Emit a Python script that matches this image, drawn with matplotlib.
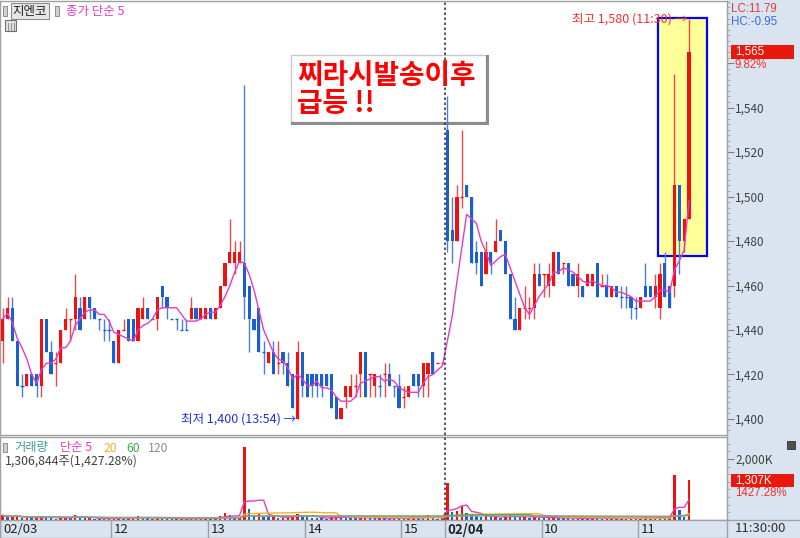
import matplotlib
matplotlib.use("Agg")
import matplotlib.pyplot as plt
import matplotlib.transforms as mtrans
from matplotlib.patches import Rectangle
from matplotlib.ticker import MultipleLocator, FixedLocator, FuncFormatter
import numpy as np
import pandas as pd

plt.rcParams['font.family'] = ['Noto Sans CJK KR', 'DejaVu Sans']

# ---------------- data (3-minute candles, 02/03 10:51 -> 02/04 11:30) ----------------
opens = [1435, 1445, 1450, 1435, 1415, 1415, 1420, 1420, 1415, 1445,
         1430, 1425, 1425, 1440, 1445, 1445, 1450, 1445, 1455, 1450,
         1445, 1440, 1440, 1435, 1425, 1440, 1445, 1445, 1435, 1445,
         1450, 1445, 1445, 1460, 1455, 1445, 1445, 1440, 1440, 1445,
         1450, 1445, 1445, 1450, 1445, 1450, 1460, 1470, 1470, 1470,
         1470, 1460, 1445, 1450, 1430, 1425, 1430, 1425, 1430, 1425,
         1420, 1400, 1430, 1420, 1420, 1420, 1420, 1420, 1420, 1410,
         1400, 1410, 1410, 1415, 1420, 1430, 1420, 1415, 1415, 1420,
         1420, 1415, 1415, 1410, 1410, 1420, 1420, 1415, 1420, 1430,
         1425, 1425,
         1530, 1485, 1480, 1500, 1505, 1500, 1475, 1475, 1465, 1475,
         1475, 1485, 1480, 1465, 1445, 1440, 1450, 1450, 1450, 1465,
         1465, 1460, 1460, 1475, 1470, 1470, 1465, 1460, 1460, 1460,
         1460, 1470, 1460, 1460, 1455, 1460, 1455, 1455, 1455, 1450,
         1450, 1460, 1460, 1455, 1450, 1470, 1460, 1460, 1505, 1480, 1490]
highs = [1450, 1455, 1455, 1435, 1420, 1420, 1420, 1420, 1445, 1445,
         1435, 1430, 1440, 1450, 1445, 1465, 1455, 1455, 1455, 1450,
         1445, 1445, 1445, 1435, 1440, 1445, 1445, 1445, 1450, 1455,
         1450, 1445, 1455, 1460, 1455, 1445, 1445, 1445, 1445, 1455,
         1450, 1450, 1450, 1450, 1450, 1460, 1470, 1490, 1480, 1480,
         1550, 1460, 1445, 1450, 1435, 1430, 1435, 1435, 1430, 1430,
         1420, 1435, 1430, 1420, 1420, 1420, 1420, 1420, 1420, 1410,
         1405, 1415, 1420, 1420, 1430, 1430, 1420, 1420, 1420, 1425,
         1425, 1415, 1420, 1415, 1415, 1420, 1420, 1425, 1425, 1430,
         1425, 1425,
         1545, 1500, 1505, 1530, 1505, 1500, 1480, 1475, 1480, 1475,
         1490, 1485, 1480, 1465, 1455, 1450, 1460, 1455, 1470, 1470,
         1465, 1470, 1475, 1475, 1470, 1470, 1465, 1470, 1460, 1465,
         1465, 1470, 1465, 1465, 1460, 1460, 1460, 1460, 1455, 1455,
         1455, 1470, 1460, 1465, 1470, 1475, 1460, 1555, 1505, 1490, 1580]
lows = [1425, 1445, 1435, 1415, 1410, 1415, 1415, 1410, 1410, 1430,
        1420, 1415, 1425, 1440, 1435, 1440, 1440, 1445, 1445, 1445,
        1440, 1435, 1435, 1425, 1425, 1440, 1435, 1435, 1435, 1445,
        1445, 1445, 1440, 1450, 1445, 1445, 1440, 1440, 1440, 1445,
        1445, 1445, 1445, 1445, 1445, 1450, 1460, 1470, 1465, 1470,
        1445, 1430, 1440, 1430, 1420, 1425, 1420, 1420, 1420, 1415,
        1405, 1400, 1410, 1410, 1410, 1410, 1410, 1415, 1405, 1400,
        1400, 1405, 1410, 1410, 1410, 1410, 1410, 1410, 1410, 1410,
        1415, 1410, 1405, 1405, 1410, 1415, 1410, 1410, 1410, 1420,
        1425, 1425,
        1475, 1470, 1480, 1495, 1500, 1470, 1465, 1460, 1465, 1465,
        1475, 1480, 1465, 1445, 1440, 1440, 1445, 1445, 1445, 1460,
        1455, 1455, 1460, 1465, 1465, 1460, 1460, 1455, 1455, 1460,
        1460, 1455, 1460, 1455, 1455, 1455, 1450, 1450, 1445, 1445,
        1450, 1455, 1455, 1450, 1445, 1455, 1450, 1455, 1465, 1475, 1490]
closes = [1445, 1450, 1435, 1415, 1415, 1420, 1415, 1415, 1445, 1430,
          1420, 1425, 1440, 1445, 1445, 1455, 1440, 1455, 1450, 1445,
          1445, 1440, 1440, 1425, 1440, 1440, 1435, 1435, 1450, 1450,
          1445, 1445, 1455, 1455, 1450, 1445, 1445, 1440, 1440, 1450,
          1445, 1450, 1450, 1445, 1450, 1460, 1470, 1475, 1475, 1475,
          1455, 1445, 1440, 1430, 1430, 1430, 1420, 1425, 1425, 1415,
          1405, 1430, 1415, 1410, 1415, 1415, 1415, 1415, 1405, 1400,
          1405, 1415, 1415, 1415, 1430, 1410, 1420, 1420, 1415, 1420,
          1415, 1415, 1405, 1410, 1415, 1415, 1415, 1425, 1425, 1420,
          1425, 1425,
          1480, 1480, 1500, 1500, 1500, 1470, 1470, 1460, 1475, 1470,
          1480, 1480, 1465, 1445, 1440, 1450, 1450, 1450, 1465, 1460,
          1465, 1465, 1475, 1465, 1470, 1460, 1460, 1465, 1455, 1465,
          1465, 1455, 1460, 1455, 1460, 1455, 1455, 1455, 1450, 1450,
          1455, 1455, 1455, 1460, 1465, 1455, 1450, 1505, 1480, 1490, 1565]
volumes_k = [150, 90, 120, 140, 60, 80, 50, 70, 130, 90,
             60, 40, 80, 110, 50, 150, 90, 60, 70, 40,
             30, 40, 50, 90, 110, 40, 60, 70, 120, 90,
             60, 30, 100, 70, 60, 30, 40, 30, 30, 60,
             40, 70, 80, 50, 60, 120, 230, 160, 90, 110,
             2400, 360, 150, 230, 100, 90, 120, 70, 80, 100,
             140, 190, 160, 90, 80, 60, 50, 40, 110, 120,
             90, 80, 70, 50, 90, 100, 60, 50, 70, 60,
             40, 80, 70, 50, 60, 90, 80, 70, 160, 60, 40, 90,
             1200, 260, 300, 460, 230, 160, 120, 100, 130, 90,
             110, 80, 120, 150, 100, 90, 110, 80, 130, 70,
             60, 80, 90, 70, 50, 60, 40, 70, 50, 60,
             80, 70, 40, 50, 60, 40, 50, 60, 70, 40,
             60, 90, 50, 80, 110, 70, 90, 1475, 330, 100, 1306.844]
tick_pos = [-0.5, 22.5, 42.5, 62.5, 82.5, 91.5, 111.5, 131.5]
tick_labels = ['02/03', '12', '13', '14', '15', '02/04', '10', '11']
day_break = 91.5

# ---------------- figure ----------------
W, H = 800, 538
fig = plt.figure(figsize=(8, 5.38), dpi=100)
fig.patch.set_facecolor('white')

def fx(px):
    return px / W

def fy(py):
    return 1 - py / H

BG = '#dae4f0'
RED = '#f01010'
BLUE = '#1a5fd0'
RED_W = '#f04848'
BLUE_W = '#4a7fe0'
PINK = '#e23cc8'
GRID = '#a0a0a0'
LAT = ['Liberation Sans', 'DejaVu Sans']

fig.add_artist(Rectangle((fx(727), 0), 1 - fx(727), 1, transform=fig.transFigure,
                         facecolor=BG, edgecolor='none', zorder=-10))

ax = fig.add_axes([0, fy(435), fx(727), (435 - 1) / H])
ax_v = fig.add_axes([0, fy(520), fx(727), (520 - 437) / H])
ax_s = fig.add_axes([0, 0, fx(727), 18 / H])

o = np.array(opens, float)
h = np.array(highs, float)
l = np.array(lows, float)
c = np.array(closes, float)
v = np.array(volumes_k, float)
n = len(c)
x = np.arange(n)

# candle colors (doji: compare with previous close, tie -> previous color)
ups = []
for i in range(n):
    if c[i] > o[i]:
        up = True
    elif c[i] < o[i]:
        up = False
    else:
        if i == 0:
            up = True
        elif c[i] > c[i - 1]:
            up = True
        elif c[i] < c[i - 1]:
            up = False
        else:
            up = ups[-1]
    ups.append(up)
ups = np.array(ups)
cols = np.where(ups, RED, BLUE)
wcols = np.where(ups, RED_W, BLUE_W)

xmin, xmax = -2.7 / 4.833, (727 - 2.7) / 4.833
for a in (ax, ax_v, ax_s):
    a.set_xlim(xmin, xmax)
    a.set_facecolor('white')
    for s in a.spines.values():
        s.set_color(GRID)
        s.set_linewidth(1)

ax.set_ylim(1392.8, 1587.9)

# yellow highlight box
ax.add_patch(Rectangle((135.6, 1473.3), 10.1, 106.9, facecolor='#ffff99',
                       edgecolor='#0000ff', linewidth=1.6, zorder=1))

# text box with shadow
ax.add_patch(Rectangle((59.65, 1533.5), 40.35, 30.1, facecolor='white',
                       edgecolor='#c8c8c8', linewidth=1, zorder=2))
ax.plot([59.9, 100.2, 100.2], [1533.2, 1533.2, 1563.2], color='#8c8c8c', lw=2.2,
        zorder=2, solid_joinstyle='miter')

# candles
ax.vlines(x, l, h, colors=wcols, linewidth=1, zorder=3)
body_b = np.minimum(o, c)
body_h = np.abs(c - o)
ax.bar(x, body_h, bottom=body_b, width=0.64, color=cols, linewidth=0, zorder=4)
doji = body_h == 0
ax.hlines(c[doji], x[doji] - 0.32, x[doji] + 0.32, colors=cols[doji], linewidth=1, zorder=4)

ma5 = pd.Series(c).rolling(5, min_periods=1).mean()
ax.plot(x, ma5, color=PINK, lw=1, zorder=5)

ax.axvline(day_break, color='#404040', lw=1.2, ls=(0, (1.5, 1.5)), zorder=6)

ax.text(60.9, 1554.4, '찌라시발송이후', color='#ff0000', fontsize=20, fontweight='bold',
        fontstyle='italic', ha='left', va='center', zorder=8)
ax.text(60.9, 1541.6, '급등 !!', color='#ff0000', fontsize=20, fontweight='bold',
        fontstyle='italic', ha='left', va='center', zorder=8)

i_lo = int(np.argmin(l))
i_hi = int(np.argmax(h))
ax.text(i_lo - 0.3, l[i_lo], f'최저 {int(l[i_lo]):,} (13:54) →', color='#2030e0',
        fontsize=9, ha='right', va='center', zorder=8)
ax.text(i_hi - 0.3, h[i_hi], f'최고 {int(h[i_hi]):,} (11:30) →', color='#f03030',
        fontsize=9, ha='right', va='center', zorder=8)

# price axis on right
ax.yaxis.tick_right()
ax.yaxis.set_major_locator(FixedLocator(np.arange(1400, 1561, 20)))
ax.yaxis.set_minor_locator(MultipleLocator(2.5))
ax.yaxis.set_major_formatter(FuncFormatter(lambda val, p: f'{int(round(val)):,}' if val <= 1540 else ''))
ax.tick_params(axis='y', which='major', direction='out', length=5, color='#808080',
               labelsize=8.5, labelcolor='#404040', pad=1)
ax.tick_params(axis='y', which='minor', direction='out', length=2, color='#a0a0a0')
ax.set_xticks([])

bt = mtrans.blended_transform_factory(ax.transAxes, ax.transData)
last = c[-1]
ax.add_patch(Rectangle((1.005, last - 3.2), 0.087, 6.4, transform=bt, facecolor='#e8180c',
                       edgecolor='none', clip_on=False, zorder=9))
ax.text(1.011, last, f'{int(last):,}', transform=bt, color='white', fontsize=8.3,
        family=LAT, va='center', ha='left', zorder=10, clip_on=False)
ax.text(1.011, last - 5.8, '9.82%', transform=bt, color='#f03030', fontsize=8.3,
        family=LAT, va='center', ha='left', zorder=10, clip_on=False)

fig.text(fx(731), fy(9), 'LC:11.79', color='#e03a3a', fontsize=8.3, family=LAT, va='center')
fig.text(fx(731), fy(22), 'HC:-0.95', color='#3a6ad8', fontsize=8.3, family=LAT, va='center')

# header
fig.text(fx(30), fy(11), '지엔코', fontsize=9, color='#202020', ha='center', va='center',
         bbox=dict(boxstyle='square,pad=0.15', fc='#e6e6e6', ec='#909090', lw=0.8))
fig.text(fx(66), fy(11), '종가 단순 5', fontsize=9, color=PINK, ha='left', va='center')
for px0 in (3, 55):
    fig.add_artist(Rectangle((fx(px0), fy(16)), fx(4), 10 / H, transform=fig.transFigure,
                             facecolor='#d0d0d0', edgecolor='#808080', lw=0.6))
fig.add_artist(Rectangle((fx(5), fy(31)), fx(11), 11 / H, transform=fig.transFigure,
                         facecolor='#e0e0e0', edgecolor='#707070', lw=0.8))
for gx in (8, 11, 14):
    fig.add_artist(plt.Line2D([fx(gx), fx(gx)], [fy(30), fy(23)], transform=fig.transFigure,
                              color='#808080', lw=0.6))

# ---------------- volume panel ----------------
vcols = [RED] + [RED if v[i] >= v[i - 1] else BLUE for i in range(1, n)]
ax_v.bar(x, v, width=0.5, color=vcols, linewidth=0, zorder=3)
for win, colr in ((5, PINK), (20, '#f2b028'), (60, '#3cac50'), (120, '#9a9a9a')):
    ax_v.plot(x, pd.Series(v).rolling(win, min_periods=1).mean(), color=colr, lw=1, zorder=4)
ax_v.axvline(day_break, color='#404040', lw=1.2, ls=(0, (1.5, 1.5)), zorder=6)
ax_v.set_ylim(0, 2721)
ax_v.yaxis.tick_right()
ax_v.yaxis.set_major_locator(FixedLocator([2000]))
ax_v.yaxis.set_minor_locator(MultipleLocator(250))
ax_v.yaxis.set_major_formatter(FuncFormatter(lambda val, p: f'{int(val):,}K'))
ax_v.tick_params(axis='y', which='major', direction='out', length=5, color='#808080',
                 labelsize=8.5, labelcolor='#404040', pad=1)
ax_v.tick_params(axis='y', which='minor', direction='out', length=2, color='#a0a0a0')
ax_v.set_xticks([])

bv = mtrans.blended_transform_factory(ax_v.transAxes, ax_v.transData)
lv = v[-1]
ax_v.add_patch(Rectangle((1.005, lv - 215), 0.087, 430, transform=bv, facecolor='#e8180c',
                         edgecolor='none', clip_on=False, zorder=9))
ax_v.text(1.011, lv, f'{int(round(lv)):,}K', transform=bv, color='white', fontsize=8.3,
          family=LAT, va='center', ha='left', zorder=10, clip_on=False)
ax_v.text(1.011, lv - 425, '1427.28%', transform=bv, color='#f03030', fontsize=8.3,
          family=LAT, va='center', ha='left', zorder=10, clip_on=False)

fig.add_artist(Rectangle((fx(3), fy(452)), fx(4), 9 / H, transform=fig.transFigure,
                         facecolor='#d0d0d0', edgecolor='#808080', lw=0.6))
fig.add_artist(Rectangle((fx(787), fy(449)), fx(8), 8 / H, transform=fig.transFigure,
                         facecolor='#505050', edgecolor='#303030', lw=0.6))
fig.text(fx(14), fy(448), '거래량', fontsize=8.8, color='#3a9c9c', va='center')
fig.text(fx(60), fy(448), '단순 5', fontsize=8.8, color=PINK, va='center')
fig.text(fx(104), fy(448), '20', fontsize=8.8, color='#f2b028', va='center')
fig.text(fx(126), fy(448), '60', fontsize=8.8, color='#3cac50', va='center')
fig.text(fx(148), fy(448), '120', fontsize=8.8, color='#8a8a8a', va='center')
fig.text(fx(5), fy(461), f'{int(round(lv * 1000)):,}주(1,427.28%)', fontsize=8.8,
         color='#404040', va='center')

# ---------------- time strip ----------------
ax_s.set_facecolor(BG)
ax_s.set_ylim(0, 1)
ax_s.set_xticks([])
ax_s.set_yticks([])
ax_s.vlines(tick_pos, 0, 1, colors=GRID, linewidth=1)
for tp, lab in zip(tick_pos, tick_labels):
    ax_s.text(tp + 0.55, 0.45, lab, fontsize=9.5, va='center', ha='left',
              color='#202020', fontweight='bold' if lab == '02/04' else 'normal')
fig.text(fx(735), fy(529), '11:30:00', fontsize=9.5, color='#303030', va='center')
fig.add_artist(plt.Line2D([fx(727), 1], [fy(520), fy(520)], transform=fig.transFigure,
                          color=GRID, lw=1))

fig.savefig('out.png', dpi=100)
